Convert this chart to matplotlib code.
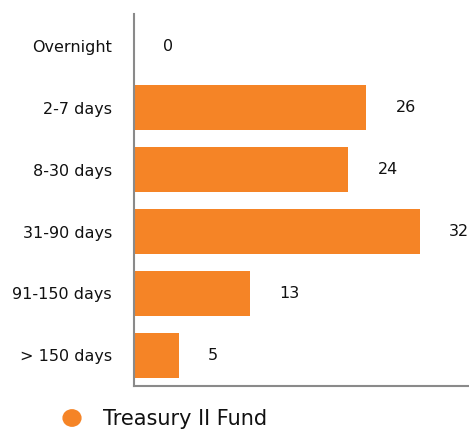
import matplotlib.pyplot as plt

# Data
categories = ["Overnight", "2-7 days", "8-30 days", "31-90 days", "91-150 days", "> 150 days"]
values = [0, 26, 24, 32, 13, 5]
series_name = "Treasury II Fund"

bar_color = "#F58426"
spine_color = "#8a8a8a"


def main():
    fig = plt.figure(figsize=(4.69, 4.30), dpi=100)
    ax = fig.add_axes([0.2857, 0.1023, 0.7143, 0.8651])

    ypos = list(range(len(categories)))
    ax.barh(ypos, values, height=0.73, color=bar_color)

    for y, v in zip(ypos, values):
        ax.annotate(str(v), xy=(v, y), xytext=(21, 0), textcoords="offset points",
                    ha="left", va="center", fontsize=11.5, color="#111111")

    ax.set_yticks(ypos)
    ax.set_yticklabels(categories, fontsize=11.5, color="#111111")
    ax.tick_params(axis="y", length=0, pad=16)
    ax.set_xticks([])
    ax.set_xlim(0, 37.5)
    ax.set_ylim(5.5, -0.52)

    for side in ["top", "right"]:
        ax.spines[side].set_visible(False)
    for side in ["left", "bottom"]:
        ax.spines[side].set_color(spine_color)
        ax.spines[side].set_linewidth(1.5)

    # Legend drawn at the bottom
    fig.patches.append(plt.Circle((72 / 469, 1 - 418 / 430), 0.019,
                                  transform=fig.transFigure, color=bar_color))
    fig.text(103 / 469, 1 - 419 / 430, series_name, fontsize=15,
             ha="left", va="center", color="#111111")

    fig.savefig("out.png", dpi=100)


if __name__ == "__main__":
    main()
